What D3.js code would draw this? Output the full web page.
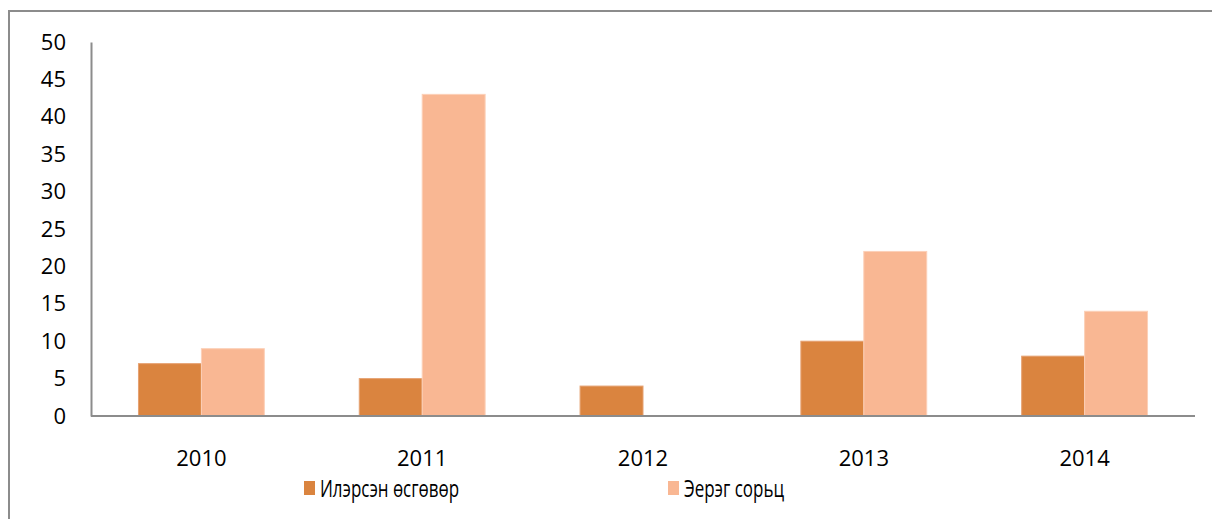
<!DOCTYPE html>
<html>
<head>
<meta charset="utf-8">
<script src="https://cdn.jsdelivr.net/npm/d3@7"></script>
<style>
  body { margin: 0; background: #fff; }
</style>
</head>
<body>
<div id="box"></div>
<script>
// 数据
const years = ['2010', '2011', '2012', '2013', '2014']
const seriesNames = ['Илэрсэн өсгөвөр', 'Эерэг сорьц']
const found = [7, 5, 4, 10, 8]
const positive = [9, 43, 0, 22, 14]
const yTicks = [0, 5, 10, 15, 20, 25, 30, 35, 40, 45, 50]

const width = 1212
const height = 519
const margin = {top: 42, right: 17, bottom: 103, left: 91}
const colors = ['#DA843F', '#F9B793']
const font = '"Open Sans", sans-serif'

const svg = d3.select('#box').append('svg')
  .attr('width', width)
  .attr('height', height)

// 外框
svg.append('rect')
  .attr('x', 9).attr('y', 11)
  .attr('width', width + 20).attr('height', height + 20)
  .attr('fill', 'none')
  .attr('stroke', '#8c8c8c')
  .attr('stroke-width', 2)

const x = d3.scaleBand()
  .domain(years)
  .range([margin.left, width - margin.right])
  .paddingInner(0.43)
  .paddingOuter(0.215)

const x1 = d3.scaleBand()
  .domain([0, 1])
  .range([0, x.bandwidth()])

const y = d3.scaleLinear()
  .domain([0, 50])
  .range([height - margin.bottom, margin.top])

// bars
const groups = svg.append('g').selectAll('g')
  .data(years.map((yr, i) => ({year: yr, vals: [found[i], positive[i]]})))
  .join('g')
  .attr('transform', d => `translate(${x(d.year)},0)`)

groups.selectAll('rect')
  .data(d => d.vals.map((v, k) => ({v, k})))
  .join('rect')
  .attr('x', d => x1(d.k))
  .attr('y', d => y(d.v))
  .attr('width', x1.bandwidth())
  .attr('height', d => y(0) - y(d.v))
  .attr('fill', d => colors[d.k])
  .attr('stroke', d => d.k === 0 ? '#e6a272' : '#fcd0b8')
  .attr('stroke-width', 1)
  .style('display', d => d.v === 0 ? 'none' : null)

// y 轴
const yAxis = svg.append('g')
  .attr('transform', `translate(${margin.left},0)`)
  .call(d3.axisLeft(y).tickValues(yTicks).tickSize(0).tickPadding(25))
yAxis.select('.domain').attr('stroke', '#8c8c8c').attr('stroke-width', 2)
yAxis.selectAll('text').style('font', `22px ${font}`).attr('fill', '#000')

// x 轴
const xAxis = svg.append('g')
  .attr('transform', `translate(0,${y(0)})`)
  .call(d3.axisBottom(x).tickSize(0).tickPadding(34))
xAxis.select('.domain').attr('stroke', '#8c8c8c').attr('stroke-width', 2)
  .attr('d', `M${margin.left},0H${width - margin.right}`)
xAxis.selectAll('text').style('font', `22px ${font}`).attr('fill', '#000')

// 图例
const legendX = [304, 668]
const legendLen = [139, 100]
const legend = svg.append('g').selectAll('g')
  .data(seriesNames)
  .join('g')
  .attr('transform', (d, i) => `translate(${legendX[i]},481)`)
legend.append('rect')
  .attr('width', 11).attr('height', 14)
  .attr('fill', (d, i) => colors[i])
legend.append('text')
  .attr('x', 16).attr('y', 16)
  .attr('textLength', (d, i) => legendLen[i])
  .attr('lengthAdjust', 'spacingAndGlyphs')
  .style('font', `24px ${font}`)
  .text(d => d)
</script>
</body>
</html>
